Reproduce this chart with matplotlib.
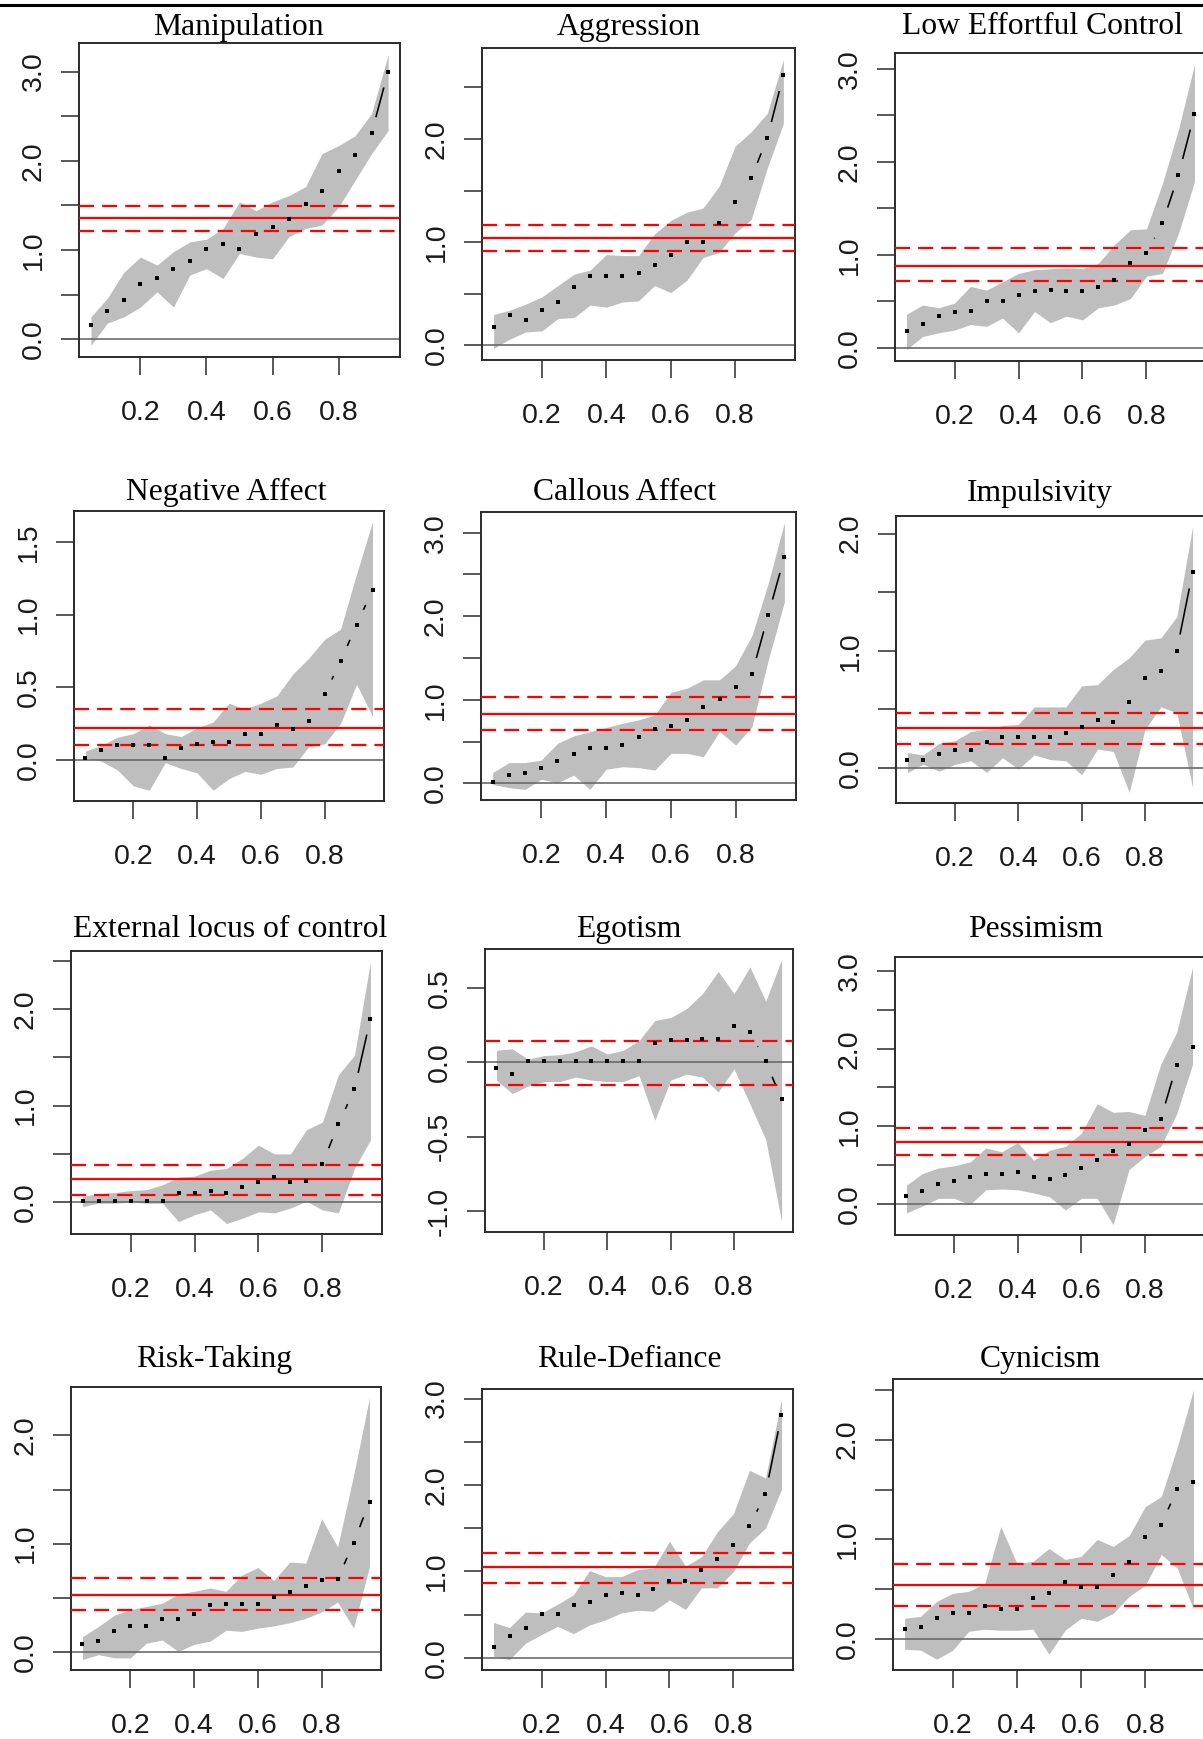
import numpy as np
import matplotlib
matplotlib.use('Agg')
import matplotlib.pyplot as plt
from matplotlib.lines import Line2D

plt.rcParams['font.family'] = 'Liberation Sans'

# quantile grid shared by all panels
QUANT = [0.05, 0.10, 0.15, 0.20, 0.25, 0.30, 0.35, 0.40, 0.45, 0.50,
         0.55, 0.60, 0.65, 0.70, 0.75, 0.80, 0.85, 0.90, 0.95]

# ---------------------------------------------------------------------------
# estimates, band (lo / hi) and reference lines (lower, mean, upper)
manip_est = [0.16, 0.31, 0.44, 0.62, 0.68, 0.79, 0.88, 1.01, 1.07, 1.01,
             1.18, 1.26, 1.35, 1.51, 1.66, 1.89, 2.07, 2.31, 3.00]
manip_lo = [-0.07, 0.18, 0.25, 0.36, 0.53, 0.36, 0.72, 0.79, 0.68, 0.96,
            0.92, 0.90, 1.15, 1.24, 1.28, 1.48, 1.78, 2.08, 2.34]
manip_hi = [0.25, 0.46, 0.75, 0.92, 0.83, 0.98, 1.09, 1.12, 1.24, 1.54,
            1.44, 1.54, 1.61, 1.71, 2.08, 2.17, 2.28, 2.53, 3.19]
manip_ref = [1.21, 1.36, 1.49]

aggr_est = [0.18, 0.29, 0.25, 0.34, 0.42, 0.57, 0.67, 0.67, 0.67, 0.70,
            0.78, 0.88, 1.00, 1.00, 1.19, 1.39, 1.62, 2.01, 2.62]
aggr_lo = [-0.03, 0.06, 0.13, 0.14, 0.26, 0.27, 0.39, 0.37, 0.42, 0.43,
           0.58, 0.51, 0.63, 0.85, 0.90, 1.09, 1.22, 1.72, 2.15]
aggr_hi = [0.30, 0.34, 0.40, 0.47, 0.58, 0.69, 0.73, 0.88, 0.87, 0.87,
           1.08, 1.21, 1.29, 1.33, 1.54, 1.93, 2.07, 2.25, 2.77]
aggr_ref = [0.91, 1.045, 1.17]

lec_est = [0.18, 0.26, 0.34, 0.38, 0.40, 0.50, 0.50, 0.57, 0.61, 0.62,
           0.61, 0.61, 0.65, 0.73, 0.91, 1.02, 1.34, 1.86, 2.52]
lec_lo = [-0.02, 0.12, 0.16, 0.19, 0.25, 0.23, 0.32, 0.16, 0.39, 0.27,
          0.34, 0.30, 0.43, 0.46, 0.53, 0.77, 0.80, 1.23, 1.79]
lec_hi = [0.36, 0.46, 0.43, 0.48, 0.66, 0.62, 0.71, 0.80, 0.84, 0.85,
          0.86, 0.85, 0.91, 1.11, 1.27, 1.28, 1.77, 2.35, 3.05]
lec_ref = [0.72, 0.88, 1.07]

nega_est = [0.01, 0.07, 0.10, 0.10, 0.10, 0.01, 0.08, 0.11, 0.12, 0.12,
            0.18, 0.18, 0.24, 0.21, 0.27, 0.45, 0.68, 0.93, 1.17]
nega_lo = [0.01, -0.01, -0.07, -0.18, -0.21, -0.02, -0.06, -0.09, -0.21, -0.13,
           -0.08, -0.10, -0.06, -0.05, 0.09, 0.11, 0.25, 0.52, 0.30]
nega_hi = [0.06, 0.10, 0.155, 0.18, 0.24, 0.18, 0.16, 0.22, 0.26, 0.39,
           0.35, 0.39, 0.44, 0.59, 0.70, 0.83, 0.90, 1.28, 1.64]
nega_ref = [0.10, 0.22, 0.35]

call_est = [0.02, 0.10, 0.12, 0.18, 0.27, 0.35, 0.42, 0.42, 0.46, 0.56,
            0.65, 0.69, 0.76, 0.91, 1.01, 1.16, 1.31, 2.01, 2.71]
call_lo = [-0.01, -0.05, -0.07, 0.05, 0.01, 0.10, -0.07, 0.17, 0.20, 0.19,
           0.16, 0.36, 0.36, 0.32, 0.62, 0.46, 0.68, 1.47, 2.17]
call_hi = [0.13, 0.25, 0.25, 0.28, 0.48, 0.57, 0.62, 0.67, 0.72, 0.76,
           0.82, 1.09, 1.14, 1.24, 1.24, 1.41, 1.77, 2.39, 3.12]
call_ref = [0.64, 0.83, 1.04]

imp_est = [0.07, 0.07, 0.12, 0.15, 0.15, 0.22, 0.26, 0.26, 0.26, 0.26,
           0.30, 0.35, 0.41, 0.39, 0.56, 0.77, 0.83, 1.00, 1.67]
imp_lo = [-0.04, 0.03, -0.03, 0.03, 0.06, -0.04, 0.085, -0.01, 0.11, 0.07,
          0.06, -0.06, 0.16, 0.14, -0.21, 0.33, 0.52, 0.47, -0.17]
imp_hi = [0.13, 0.11, 0.21, 0.23, 0.31, 0.33, 0.36, 0.37, 0.52, 0.52,
          0.52, 0.70, 0.71, 0.84, 0.94, 1.09, 1.11, 1.29, 2.06]
imp_ref = [0.20, 0.34, 0.47]

ext_est = [0.01, 0.01, 0.01, 0.01, 0.01, 0.01, 0.10, 0.10, 0.12, 0.10,
           0.155, 0.21, 0.26, 0.21, 0.22, 0.40, 0.81, 1.17, 1.90]
ext_lo = [-0.045, -0.01, -0.01, 0.0, -0.01, -0.01, -0.20, -0.13, -0.08, -0.22,
          -0.165, -0.10, -0.11, -0.06, 0.01, -0.08, -0.11, 0.35, 0.645]
ext_hi = [0.06, 0.09, 0.10, 0.12, 0.13, 0.18, 0.26, 0.27, 0.33, 0.35,
          0.455, 0.59, 0.50, 0.50, 0.75, 0.83, 1.32, 1.52, 2.49]
ext_ref = [0.07, 0.24, 0.39]

ego_est = [-0.04, -0.076, 0.005, 0.005, 0.005, 0.005, 0.005, 0.005, 0.005, 0.005,
           0.127, 0.147, 0.147, 0.158, 0.158, 0.243, 0.205, 0.005, -0.25]
ego_lo = [-0.12, -0.21, -0.16, -0.13, -0.13, -0.10, -0.12, -0.13, -0.13, -0.09,
          -0.39, -0.12, -0.08, -0.10, -0.20, -0.045, -0.28, -0.52, -1.07]
ego_hi = [0.08, 0.09, 0.02, 0.045, 0.05, 0.07, 0.11, 0.055, 0.08, 0.145,
          0.28, 0.30, 0.36, 0.46, 0.61, 0.46, 0.64, 0.41, 0.69]
ego_ref = [-0.15, np.nan, 0.14]

pess_est = [0.10, 0.17, 0.26, 0.30, 0.35, 0.39, 0.39, 0.41, 0.35, 0.32,
            0.37, 0.46, 0.57, 0.68, 0.77, 0.95, 1.09, 1.79, 2.02]
pess_lo = [-0.12, -0.03, 0.07, 0.07, -0.01, 0.18, 0.19, 0.18, 0.14, 0.09,
           -0.08, 0.07, 0.07, -0.27, 0.44, 0.61, 0.74, 1.16, 1.80]
pess_hi = [0.24, 0.39, 0.46, 0.49, 0.54, 0.72, 0.67, 0.79, 0.56, 0.69,
           0.74, 0.91, 1.29, 1.18, 1.19, 1.14, 1.80, 2.21, 3.05]
pess_ref = [0.63, 0.80, 0.98]

risk_est = [0.07, 0.10, 0.19, 0.235, 0.235, 0.30, 0.30, 0.35, 0.43, 0.44,
            0.44, 0.44, 0.51, 0.55, 0.61, 0.66, 0.67, 1.01, 1.385]
risk_lo = [-0.07, -0.025, -0.055, -0.055, 0.08, 0.11, 0.005, 0.07, 0.10, 0.20,
           0.19, 0.22, 0.24, 0.27, 0.31, 0.37, 0.46, 0.22, 0.79]
risk_hi = [0.14, 0.235, 0.34, 0.39, 0.42, 0.45, 0.535, 0.56, 0.59, 0.56,
           0.71, 0.78, 0.66, 0.83, 0.82, 1.23, 0.97, 1.63, 2.35]
risk_ref = [0.39, 0.53, 0.68]

rule_est = [0.13, 0.25, 0.35, 0.51, 0.51, 0.61, 0.65, 0.73, 0.75, 0.73,
            0.80, 0.89, 0.89, 1.02, 1.14, 1.30, 1.52, 1.90, 2.81]
rule_lo = [0.02, -0.02, 0.17, 0.27, 0.365, 0.28, 0.38, 0.44, 0.52, 0.55,
           0.54, 0.67, 0.56, 0.81, 0.81, 1.00, 1.33, 1.50, 1.95]
rule_hi = [0.41, 0.35, 0.53, 0.52, 0.62, 0.73, 1.01, 0.94, 0.94, 1.02,
           1.04, 1.35, 1.06, 1.17, 1.46, 1.67, 2.17, 2.08, 2.99]
rule_ref = [0.865, 1.05, 1.21]

cyn_est = [0.10, 0.12, 0.21, 0.26, 0.26, 0.33, 0.30, 0.30, 0.41, 0.46,
           0.57, 0.52, 0.52, 0.64, 0.77, 1.02, 1.15, 1.51, 1.58]
cyn_lo = [-0.10, -0.11, -0.20, -0.11, 0.08, 0.10, 0.09, 0.09, 0.10, -0.15,
          0.09, 0.21, 0.18, 0.26, 0.43, 0.54, 0.85, 0.71, 0.30]
cyn_hi = [0.21, 0.23, 0.38, 0.46, 0.48, 0.56, 1.13, 0.76, 0.78, 0.91,
          0.80, 0.83, 1.00, 0.93, 1.04, 1.33, 1.43, 1.93, 2.50]
cyn_ref = [0.33, 0.54, 0.75]

# y ticks (every tick, and the ones R kept a label for)
yt_3 = [0.0, 0.5, 1.0, 1.5, 2.0, 2.5, 3.0]
yl_3 = ['0.0', '', '1.0', '', '2.0', '', '3.0']
yt_25 = [0.0, 0.5, 1.0, 1.5, 2.0, 2.5]
yl_25 = ['0.0', '', '1.0', '', '2.0', '']
yt_2 = [0.0, 0.5, 1.0, 1.5, 2.0]
yl_2 = ['0.0', '', '1.0', '', '2.0']
yt_15 = [0.0, 0.5, 1.0, 1.5]
yl_15 = ['0.0', '0.5', '1.0', '1.5']
yt_ego = [-1.0, -0.5, 0.0, 0.5]
yl_ego = ['-1.0', '-0.5', '0.0', '0.5']

xt = [0.2, 0.4, 0.6, 0.8]
xl = ['0.2', '0.4', '0.6', '0.8']

titles = ['Manipulation', 'Aggression', 'Low Effortful Control',
          'Negative Affect', 'Callous Affect', 'Impulsivity',
          'External locus of control', 'Egotism', 'Pessimism',
          'Risk-Taking', 'Rule-Defiance', 'Cynicism']

panels = [
    (manip_est, manip_lo, manip_hi, manip_ref, yt_3, yl_3),
    (aggr_est, aggr_lo, aggr_hi, aggr_ref, yt_25, yl_25),
    (lec_est, lec_lo, lec_hi, lec_ref, yt_3, yl_3),
    (nega_est, nega_lo, nega_hi, nega_ref, yt_15, yl_15),
    (call_est, call_lo, call_hi, call_ref, yt_3, yl_3),
    (imp_est, imp_lo, imp_hi, imp_ref, yt_2, yl_2),
    (ext_est, ext_lo, ext_hi, ext_ref, yt_25, yl_25),
    (ego_est, ego_lo, ego_hi, ego_ref, yt_ego, yl_ego),
    (pess_est, pess_lo, pess_hi, pess_ref, yt_3, yl_3),
    (risk_est, risk_lo, risk_hi, risk_ref, yt_2, yl_2),
    (rule_est, rule_lo, rule_hi, rule_ref, yt_3, yl_3),
    (cyn_est, cyn_lo, cyn_hi, cyn_ref, yt_25, yl_25),
]

# ---------------------------------------------------------------------------
# layout, in pixels of the 1203x1739 image: plot box (left, top, right, bottom)
# and title anchor (center x, baseline y)
W, H = 1203, 1739
boxes = [
    (79, 43, 400, 357), (482, 48, 795, 360), (895, 53, 1206, 361),
    (74, 511, 384, 801), (481, 512, 796, 800), (896, 516, 1204, 803),
    (71, 951, 382, 1234), (485, 949, 793, 1232), (895, 957, 1204, 1235),
    (71, 1387, 381, 1670), (482, 1389, 793, 1670), (893, 1379, 1205, 1670),
]
title_pos = [
    (238, 35), (629, 35), (1043, 34), (226, 500), (625, 500), (1040, 501),
    (230, 937), (629, 937), (1036, 937), (214, 1367), (629, 1367), (1040, 1367),
]

GAP = 16.5  # px left free around each point (R type="b")

fig = plt.figure(figsize=(W / 100, H / 100), dpi=100)

for (est, lo, hi, ref, yt, yl), (l, t, r, b), title, (tx, ty) in zip(
        panels, boxes, titles, title_pos):
    ax = fig.add_axes([l / W, 1 - b / H, (r - l) / W, (b - t) / H])
    ymin, ymax = min(lo), max(hi)
    pad = 0.04 * (ymax - ymin)
    ax.set_xlim(0.014, 0.986)
    ax.set_ylim(ymin - pad, ymax + pad)

    ax.fill_between(QUANT, lo, hi, color='#bebebe', lw=0, zorder=1)
    ax.axhline(0, color='#6b6b6b', lw=1.2, zorder=2)
    for k, v in enumerate(ref):
        if np.isnan(v):
            continue
        if k == 1:
            ax.axhline(v, color='red', lw=1.6, zorder=3)
        else:
            ax.axhline(v, color='red', lw=1.6, dashes=(6.8, 3.6), zorder=3)

    ax.plot(QUANT, est, ls='none', marker='s', ms=2.8, mew=0,
            color='black', zorder=5)
    pts = ax.transData.transform(np.column_stack([QUANT, est]))
    for i in range(len(QUANT) - 1):
        seg = np.hypot(*(pts[i + 1] - pts[i]))
        if seg <= 2 * GAP:
            continue
        f0, f1 = GAP / seg, 1 - GAP / seg
        x0, x1 = QUANT[i], QUANT[i + 1]
        y0, y1 = est[i], est[i + 1]
        ax.plot([x0 + f0 * (x1 - x0), x0 + f1 * (x1 - x0)],
                [y0 + f0 * (y1 - y0), y0 + f1 * (y1 - y0)],
                color='black', lw=1.15, solid_capstyle='butt', zorder=5)

    ax.set_xticks(xt)
    ax.set_xticklabels(xl)
    ax.set_yticks(yt)
    ax.set_yticklabels(yl)
    ax.tick_params(axis='both', direction='out', length=13, width=1.1,
                   color='#2b2b2b', labelsize=20.5, labelcolor='#1a1a1a')
    ax.tick_params(axis='x', pad=18)
    ax.tick_params(axis='y', pad=10, labelrotation=90)
    for lab in ax.get_yticklabels():
        lab.set_va('center')
    for s in ax.spines.values():
        s.set_linewidth(1.4)
        s.set_color('#2b2b2b')

    fig.text(tx / W, 1 - ty / H, title, ha='center', va='baseline',
             fontsize=22.8, family='Liberation Serif')

# rule across the top of the page
fig.add_artist(Line2D([0, 1], [1 - 5 / H, 1 - 5 / H],
                      transform=fig.transFigure, color='black', lw=2.2))

fig.savefig('out.png', dpi=100)
